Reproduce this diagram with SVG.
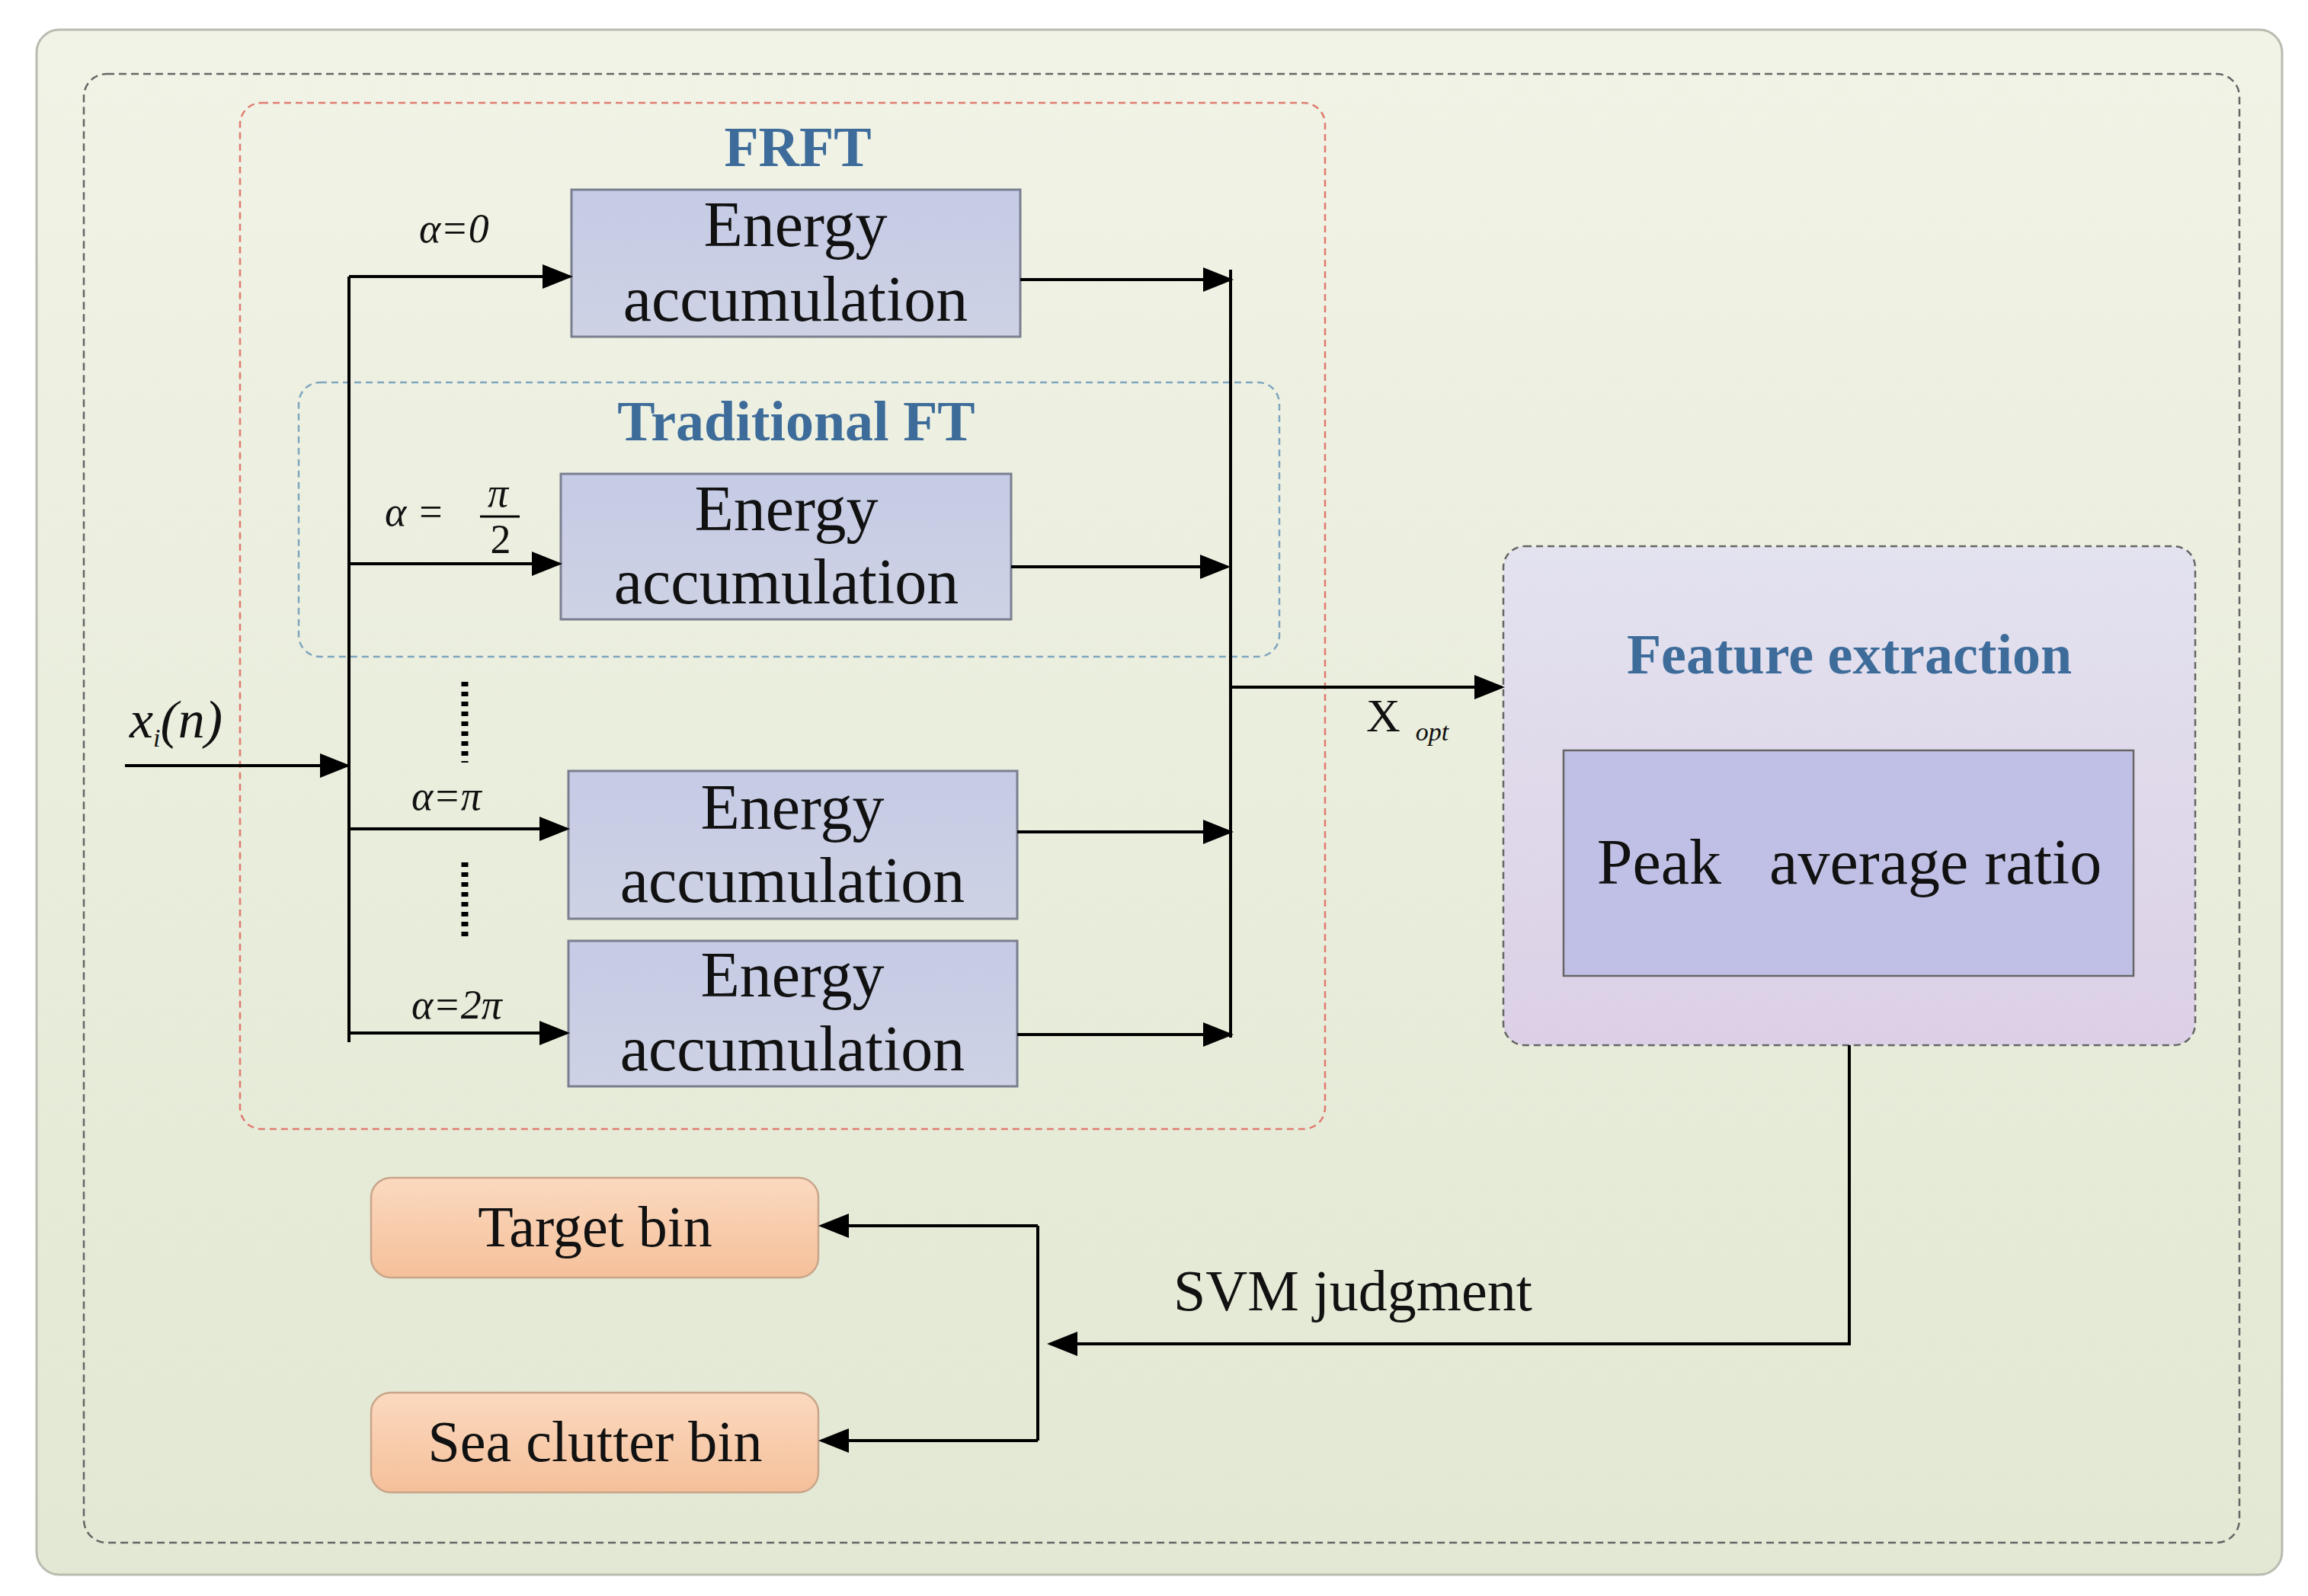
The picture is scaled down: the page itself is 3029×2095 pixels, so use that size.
<svg xmlns="http://www.w3.org/2000/svg" width="3029" height="2095" viewBox="0 0 3029 2095">
<defs>
<marker id="ah" markerWidth="10" markerHeight="8" refX="9" refY="4" orient="auto" markerUnits="strokeWidth"><path d="M0,0 L10,4 L0,8 Z" fill="#000"/></marker>
<linearGradient id="bg" x1="0" y1="0" x2="0" y2="1"><stop offset="0" stop-color="#f1f3e6"/><stop offset="1" stop-color="#e2e8d3"/></linearGradient>
<linearGradient id="fe" x1="0" y1="0" x2="0" y2="1"><stop offset="0" stop-color="#e3e2ef"/><stop offset="1" stop-color="#dcd0e6"/></linearGradient>
<linearGradient id="eb" x1="0" y1="0" x2="0" y2="1"><stop offset="0" stop-color="#c6cbe6"/><stop offset="1" stop-color="#cdd2e4"/></linearGradient>
<linearGradient id="or" x1="0" y1="0" x2="0" y2="1"><stop offset="0" stop-color="#fbd9bf"/><stop offset="1" stop-color="#f5c09a"/></linearGradient>
<style>
.t{font-family:"Liberation Serif",serif;fill:#111;text-anchor:middle}
.e{font-size:84px}
.h{font-family:"Liberation Serif",serif;font-weight:bold;fill:#3e6c9a;text-anchor:middle;font-size:74px}
.m{font-family:"Liberation Serif",serif;font-style:italic;fill:#111;font-size:54px}
.ebox{fill:url(#eb);stroke:#7a7f90;stroke-width:3}
.w{stroke:#000;stroke-width:4;fill:none}
.a{stroke:#000;stroke-width:4;fill:none;marker-end:url(#ah)}
</style>
</defs>
<rect x="48" y="39" width="2947" height="2028" rx="30" fill="url(#bg)" stroke="#b9bcb0" stroke-width="3"/>
<rect x="110" y="97" width="2829" height="1928" rx="30" fill="none" stroke="#666" stroke-width="2.5" stroke-dasharray="10,6"/>
<g id="frft"><rect x="315" y="135" width="1424" height="1347" rx="28" fill="none" stroke="#e07b70" stroke-width="2.5" stroke-dasharray="9,6"/><text class="h" x="1047" y="218">FRFT</text></g>
<g id="ft"><rect x="392" y="502" width="1287" height="360" rx="28" fill="none" stroke="#7fa6bf" stroke-width="2.5" stroke-dasharray="9,6"/><text class="h" x="1045" y="578">Traditional FT</text></g>
<g id="e1"><rect class="ebox" x="750" y="249" width="589" height="193"/><text class="t e" x="1044" y="323">Energy</text><text class="t e" x="1044" y="421">accumulation</text></g>
<g id="e2"><rect class="ebox" x="736" y="622" width="591" height="191"/><text class="t e" x="1032" y="696">Energy</text><text class="t e" x="1032" y="792">accumulation</text></g>
<g id="e3"><rect class="ebox" x="746" y="1012" width="589" height="194"/><text class="t e" x="1040" y="1088">Energy</text><text class="t e" x="1040" y="1184">accumulation</text></g>
<g id="e4"><rect class="ebox" x="746" y="1235" width="589" height="191"/><text class="t e" x="1040" y="1308">Energy</text><text class="t e" x="1040" y="1405">accumulation</text></g>
<g id="fe-node"><rect x="1973" y="717" width="908" height="655" rx="28" fill="url(#fe)" stroke="#666" stroke-width="2.5" stroke-dasharray="9,6"/><text class="h" x="2427" y="884">Feature extraction</text>
<rect x="2052" y="985" width="748" height="296" fill="#c0c0e6" stroke="#666" stroke-width="2.5"/><text class="t e" x="2427" y="1160" xml:space="preserve">Peak   average ratio</text></g>
<g id="target"><rect x="487" y="1546" width="587" height="131" rx="26" fill="url(#or)" stroke="#c9a58a" stroke-width="2.5"/><text class="t" style="font-size:76px" x="781" y="1636">Target bin</text></g>
<g id="sea"><rect x="487" y="1828" width="587" height="131" rx="26" fill="url(#or)" stroke="#c9a58a" stroke-width="2.5"/><text class="t" style="font-size:76px" x="781" y="1918">Sea clutter bin</text></g>
<g id="connectors">
<path class="a" d="M164,1005 H456"/>
<path class="w" d="M458,363 V1368"/>
<path class="a" d="M458,363 H748"/>
<path class="a" d="M458,740 H734"/>
<path class="a" d="M458,1088 H744"/>
<path class="a" d="M458,1356 H744"/>
<path class="w" d="M1615,354 V1362"/>
<path class="a" d="M1339,367 H1615"/>
<path class="a" d="M1327,744 H1611"/>
<path class="a" d="M1335,1092 H1615"/>
<path class="a" d="M1335,1358 H1615"/>
<path class="a" d="M1615,902 H1971"/>
<path class="a" d="M2427,1372 V1764 H1378"/>
<path class="w" d="M1362,1609 V1891"/>
<path class="a" d="M1362,1609 H1078"/>
<path class="a" d="M1362,1891 H1078"/>
<path d="M610,895 V1001 M610,1132 V1236" stroke="#000" stroke-width="9" stroke-dasharray="6,7"/>
</g>
<g id="labels">
<text class="m" x="550" y="318">α=0</text>
<text class="m" x="505" y="690">α =</text>
<text class="m" x="640" y="665">π</text>
<path d="M630,678 H682" stroke="#000" stroke-width="3"/>
<text class="t" style="font-size:54px" x="657" y="726">2</text>
<text class="m" x="540" y="1063">α=π</text>
<text class="m" x="540" y="1337">α=2π</text>
<text class="m" x="170" y="968" style="font-size:70px">x<tspan style="font-size:34px" dy="12">i</tspan><tspan dy="-12" style="font-size:70px">(n)</tspan></text>
<text class="t" style="font-size:62px;text-anchor:start" x="1793" y="960">X<tspan class="m" style="font-size:34px" dx="20" dy="12">opt</tspan></text>
<text class="t" style="font-size:76px;text-anchor:start" x="1540" y="1720">SVM judgment</text>
</g>
</svg>
